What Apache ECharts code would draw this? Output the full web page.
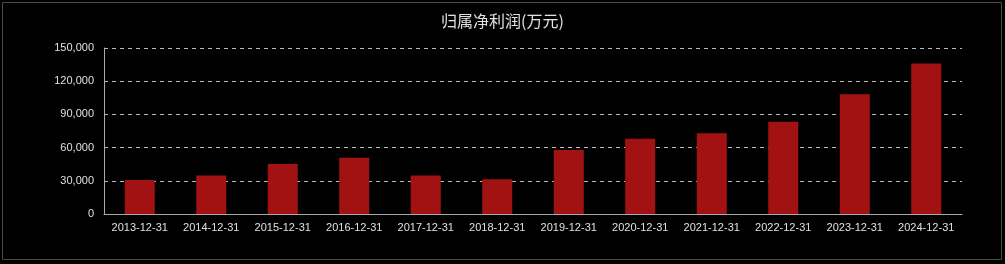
<!DOCTYPE html>
<html><head><meta charset="utf-8">
<script src="https://cdn.jsdelivr.net/npm/echarts@6/dist/echarts.min.js"></script>
<style>html,body{margin:0;padding:0;background:#000;}#c{width:1005px;height:264px;}</style>
</head><body><div id="c"></div>
<script>
var categories = ['2013-12-31','2014-12-31','2015-12-31','2016-12-31','2017-12-31','2018-12-31','2019-12-31','2020-12-31','2021-12-31','2022-12-31','2023-12-31','2024-12-31'];
var profit = [30800, 34700, 45200, 50800, 34700, 31300, 57800, 68000, 73000, 83400, 108200, 135900];
var chart = echarts.init(document.getElementById('c'));
chart.setOption({
  backgroundColor: '#000',
  animation: false,
  title: {text: '归属净利润(万元)', left: 'center', top: 8,
    textStyle: {color: '#e0e0e0', fontSize: 16, fontWeight: 'normal', fontFamily: 'Noto Sans CJK SC'}},
  graphic: [{type: 'rect', shape: {x: 2.5, y: 2.5, width: 999, height: 257},
    style: {fill: 'none', stroke: '#4a4a4a', lineWidth: 1}, silent: true}],
  grid: {left: 104, right: 43, top: 48, bottom: 50},
  xAxis: {type: 'category', data: categories,
    axisLine: {lineStyle: {color: '#aaa'}}, axisTick: {show: false},
    axisLabel: {color: '#e0e0e0', fontSize: 11, margin: 8, interval: 0, fontFamily: 'Liberation Sans'}},
  yAxis: {type: 'value', min: 0, max: 150000, interval: 30000,
    axisLine: {show: true, lineStyle: {color: '#aaa'}}, axisTick: {show: false},
    axisLabel: {color: '#e0e0e0', fontSize: 11, margin: 10, fontFamily: 'Liberation Sans',
      formatter: function(v){return v.toLocaleString('en-US');}},
    splitLine: {lineStyle: {color: '#bbb', type: [4, 4]}}},
  series: [{type: 'bar', data: profit, barWidth: 30,
    itemStyle: {color: '#a31212'}}]
});
</script></body></html>
